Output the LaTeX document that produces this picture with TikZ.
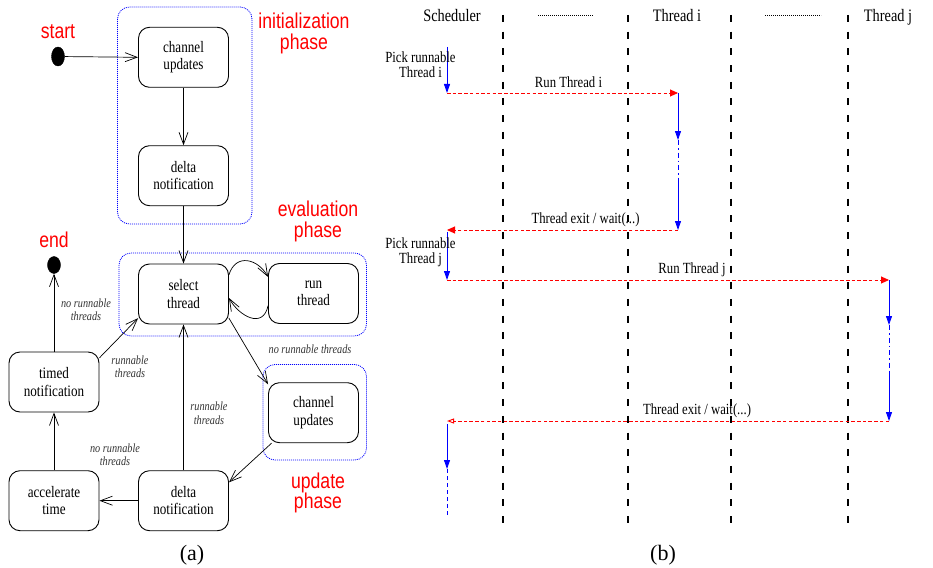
\documentclass[tikz,border=0pt]{standalone}
\usepackage{fontspec}
\setmainfont[FakeStretch=0.82]{Liberation Serif}
\newfontfamily\phasefont[FakeStretch=0.82]{Liberation Sans}
\newfontfamily\capfont{Liberation Serif}
\usetikzlibrary{arrows.meta,shapes.geometric}

\tikzset{
  state/.style={draw, rounded corners=11pt, minimum width=90pt, minimum height=60pt, align=center, line width=0.9pt, font=\fontsize{16}{17.5}\selectfont},
  dot/.style={draw, ellipse, fill=black, inner sep=0pt},
  phasebox/.style={draw=blue, rounded corners=12pt, line width=0.8pt, dash pattern=on 1pt off 1pt},
  phaselabel/.style={text=red, align=center, font=\phasefont\fontsize{21.5}{20.5}\selectfont},
  guard/.style={align=center, text=black!80, font=\itshape\fontsize{12.5}{13.5}\selectfont},
  trans/.style={line width=0.7pt, -{Straight Barb[length=12pt,width=9pt]}},
  header/.style={anchor=base, font=\fontsize{17.5}{18}\selectfont},
  seqtext/.style={align=center, font=\fontsize{15.5}{15}\selectfont},
  lifeline/.style={line width=2.5pt, dash pattern=on 7pt off 9.7pt},
  msg/.style={red, line width=0.9pt, dash pattern=on 3.5pt off 2.2pt},
  exec/.style={blue, line width=0.9pt},
  breakline/.style={blue, line width=0.9pt, dash pattern=on 5pt off 3pt on 1.5pt off 3pt},
  toblue/.style={-{Triangle[length=9pt,width=6pt]}},
  tored/.style={-{Triangle[length=8pt,width=7pt]}},
  toopen/.style={-{Triangle[open,length=7pt,width=5pt]}},
  caption/.style={font=\capfont\fontsize{22}{22}\selectfont}
}

\begin{document}
\begin{tikzpicture}[x=1pt, y=-1pt]
  \useasboundingbox (0,0) rectangle (933,567);

  % (a) phases
  \draw[phasebox] (117.5,7) rectangle (252,224);
  \draw[phasebox] (119,253) rectangle (366.5,336);
  \draw[phasebox] (263,364.5) rectangle (366.5,460);

  \node[phaselabel] (lstart) at (58,32) {start};
  \node[phaselabel] (lend) at (54,240) {end};
  \node[phaselabel] (linit) at (304,33.5) {initialization\\phase};
  \node[phaselabel] (leval) at (318,221.5) {evaluation\\phase};
  \node[phaselabel] (lupd) at (318,493) {update\\phase};

  \node[dot, minimum width=13pt, minimum height=19pt] (start) at (58,56.5) {};
  \node[dot, minimum width=13pt, minimum height=17pt] (end) at (54,265) {};

  \node[state] (chan1) at (183.5,57.3) {channel\\updates};
  \node[state] (delta1) at (183.5,175.7) {delta\\notification};
  \node[state] (select) at (183.5,294) {select\\thread};
  \node[state] (run) at (313.5,293.5) {run\\thread};
  \node[state] (chan2) at (313.5,412.7) {channel\\updates};
  \node[state] (timed) at (54,382) {timed\\notification};
  \node[state] (accel) at (54,500.7) {accelerate\\time};
  \node[state] (delta2) at (183.5,500.7) {delta\\notification};

  \draw[trans] (start) -- (chan1.west);
  \draw[trans] (chan1) -- (delta1);
  \draw[trans] (delta1) -- (select);
  \draw[trans] (select.23) .. controls +(7,-22) and +(-10,-18) .. (run.160);
  \draw[trans] (run.195) .. controls +(-5,24) and +(10,18) .. (select.-5);
  \draw[trans] (select.-28) -- (chan2.148);
  \draw[trans] (chan2.216) -- (delta2.22);
  \draw[trans] (delta2) -- (accel);
  \draw[trans] (delta2) -- (select);
  \draw[trans] (accel) -- (timed);
  \draw[trans] (timed.28) -- (select.208);
  \draw[trans] (timed.north) -- (end.south);

  \node[guard] (g1) at (86,309.5) {no runnable\\threads};
  \node[guard] (g2) at (130,366.5) {runnable\\threads};
  \node[guard] (g3) at (115,454.5) {no runnable\\threads};
  \node[guard] (g4) at (209,413) {runnable\\threads};
  \node[guard] (g5) at (310,349.5) {no runnable threads};

  \node[caption] (capa) at (192,555) {(a)};

  % (b) lifelines
  \foreach \x in {503,628,731,848}
    \draw[lifeline] (\x,15) -- (\x,523);

  \node[header] (sched) at (452,22) {Scheduler};
  \node[header] (thi) at (677,22) {Thread i};
  \node[header] (thj) at (888,22) {Thread j};
  \draw[line width=0.6pt, dash pattern=on 0.6pt off 1.4pt] (538,15) -- (593,15);
  \draw[line width=0.6pt, dash pattern=on 0.6pt off 1.4pt] (765,15) -- (821,15);

  \coordinate (s0) at (447,47);
  \coordinate (s1) at (447,93);
  \coordinate (i0) at (678,93);
  \coordinate (i1) at (678,140);
  \coordinate (i2) at (678,182);
  \coordinate (i3) at (678,230);
  \coordinate (s2) at (447,230);
  \coordinate (s3) at (447,232);
  \coordinate (s4) at (447,280);
  \coordinate (j0) at (889,280);
  \coordinate (j1) at (889,325);
  \coordinate (j2) at (889,372);
  \coordinate (j3) at (889,421);
  \coordinate (s5) at (447,421);
  \coordinate (s6) at (447,424);
  \coordinate (s7) at (447,469);
  \coordinate (s8) at (447,517);

  \draw[exec, toblue] (s0) -- (s1);
  \draw[msg, tored] (s1) -- (i0);
  \draw[exec, toblue] (i0) -- (i1);
  \draw[breakline] (i1) -- (i2);
  \draw[exec, toblue] (i2) -- (i3);
  \draw[msg, tored] (i3) -- (s2);
  \draw[exec, toblue] (s3) -- (s4);
  \draw[msg, tored] (s4) -- (j0);
  \draw[exec, toblue] (j0) -- (j1);
  \draw[breakline] (j1) -- (j2);
  \draw[exec, toblue] (j2) -- (j3);
  \draw[msg, toopen] (j3) -- (s5);
  \draw[exec, toblue] (s6) -- (s7);
  \draw[blue, line width=0.7pt, dash pattern=on 4pt off 3pt] (s7) -- (s8);

  \node[seqtext] (pick1) at (420.5,64.5) {Pick runnable\\Thread i};
  \node[seqtext] (pick2) at (420.5,252.3) {Pick runnable\\Thread j};
  \node[seqtext, anchor=base] (run1) at (568.5,87.3) {Run Thread i};
  \node[seqtext, anchor=base] (exit1) at (585.5,223.5) {Thread exit / wait(...)};
  \node[seqtext, anchor=base] (run2) at (692,273.3) {Run Thread j};
  \node[seqtext, anchor=base] (exit2) at (697,414) {Thread exit / wait(...)};

  \node[caption] (capb) at (663,555) {(b)};
\end{tikzpicture}
\end{document}
